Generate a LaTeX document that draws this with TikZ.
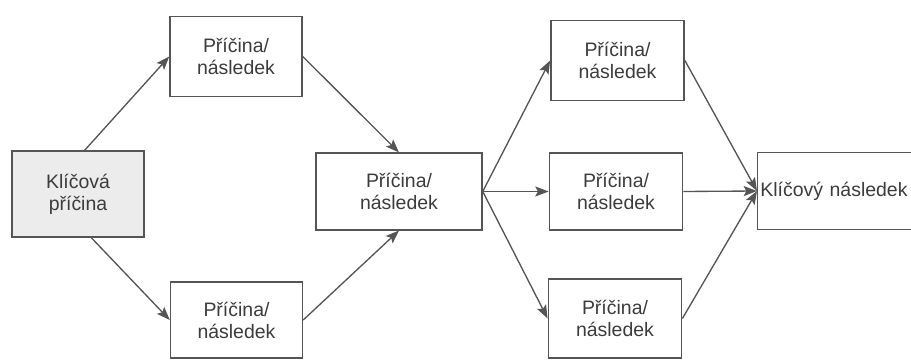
\documentclass[tikz,border=0pt]{standalone}
\usepackage{fontspec}
\setmainfont{Liberation Sans}
\usepackage{xcolor}
\usetikzlibrary{arrows.meta,positioning}
\definecolor{cLine}{RGB}{85,85,85}
\definecolor{cText}{RGB}{60,60,60}
\definecolor{cKey}{RGB}{236,236,236}
\tikzset{
  box/.style={draw=cLine, line width=1.1pt, fill=white, align=center,
              text=cText, font=\fontsize{14.6pt}{16.5pt}\selectfont,
              inner sep=0pt, minimum width=99pt, minimum height=60pt},
  keybox/.style={box, fill=cKey, minimum width=99pt, minimum height=64.5pt},
  arr/.style={-{Stealth[length=10pt,width=7.5pt,inset=2pt]}, draw=cLine, line width=1pt},
}

\begin{document}
\begin{tikzpicture}[x=0.75pt, y=-0.75pt]
  \useasboundingbox (0,0) rectangle (911,363);
  % left part
  \node[keybox] (key) at (78,194) {Klíčová\\příčina};
  \node[box] (c1) at (236,56.5) {Příčina/\\následek};
  \node[box, minimum height=57pt] (c2) at (236.5,320) {Příčina/\\následek};
  \node[box, minimum width=124.5pt, minimum height=57.5pt] (mid) at (399,191.5) {Příčina/\\následek};
  % right part
  \node[box, minimum width=100pt] (r1) at (617.5,60.5) {Příčina/\\následek};
  \node[box, minimum width=100pt, minimum height=57.5pt] (r2) at (616,191.5) {Příčina/\\následek};
  \node[box, minimum width=100pt, minimum height=59pt] (r3) at (615,318.5) {Příčina/\\následek};
  \node[box, anchor=west, minimum width=135pt, minimum height=57.5pt, text width=131pt, align=left] (eff) at (757,191) {Klíčový následek};

  \draw[arr] ([xshift=5pt]key.north) -- (c1.west);
  \draw[arr] ([xshift=10pt]key.south) -- (c2.west);
  \draw[arr] (c1.east) -- (mid.north);
  \draw[arr] (c2.east) -- (mid.south);
  \foreach \r in {r1,r2,r3} {\draw[arr] (mid.east) -- (\r.west);}
  \foreach \r in {r1,r2,r3} {\draw[arr] (\r.east) -- (eff.west);}
\end{tikzpicture}
\end{document}
